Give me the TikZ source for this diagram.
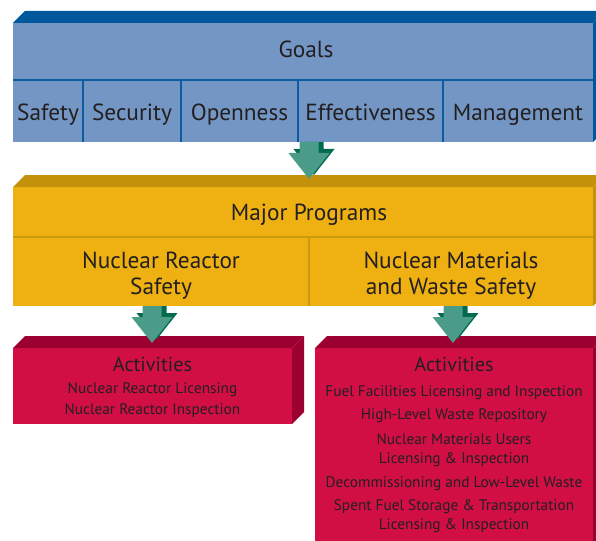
\documentclass[tikz,border=0pt]{standalone}
\usepackage{fontspec}
\setmainfont{PT Sans}
\usetikzlibrary{calc}
\definecolor{bluefront}{HTML}{7396C4}
\definecolor{bluetop}{HTML}{00579B}
\definecolor{blueline}{HTML}{0B5C9F}
\definecolor{goldfront}{HTML}{EEB111}
\definecolor{goldtop}{HTML}{C4920A}
\definecolor{goldline}{HTML}{C99A10}
\definecolor{redfront}{HTML}{D10F45}
\definecolor{redtop}{HTML}{9B0030}
\definecolor{arrowlight}{HTML}{4A9B88}
\definecolor{arrowdark}{HTML}{006B4F}
\definecolor{txt}{HTML}{231F20}
\newcommand{\fatarrow}[2]{%
  \fill[arrowdark] ($(#1)+(-4.5,0)$) -- ($(#1)+(14.5,0)$) -- ($(#2)+(14.5,-30)$) -- ($(#2)+(25.5,-30)$) -- ($(#2)+(5,-4)$) -- ($(#2)+(-15.5,-30)$) -- ($(#2)+(-4.5,-30)$) -- cycle;
  \fill[arrowlight] ($(#1)+(-9.5,0)$) -- ($(#1)+(9.5,0)$) -- ($(#2)+(9.5,-26)$) -- ($(#2)+(20.5,-26)$) -- (#2) -- ($(#2)+(-20.5,-26)$) -- ($(#2)+(-9.5,-26)$) -- cycle;}
\newcommand{\blockfaces}[3]{%
  \fill[#2] (#1.north west) -- ++(#3,-#3) -- ($(#1.north east)+(#3,-#3)$) -- (#1.north east) -- cycle;
  \fill[#2] (#1.north east) -- ++(#3,-#3) -- ($(#1.south east)+(#3,-#3)$) -- (#1.south east) -- cycle;}
\tikzset{
  face/.style={draw=none, inner sep=0pt, outer sep=0pt, anchor=north west},
  lbl/.style={text=txt, inner sep=0pt, align=center},
  one/.style={text height=0.7em, text depth=0.2em},
  big/.style={lbl, font=\fontsize{23.3}{26}\selectfont},
  mid/.style={lbl, one, font=\fontsize{20.2}{26}\selectfont},
  small/.style={lbl, font=\fontsize{15.3}{19}\selectfont},
  bline/.style={draw=blueline, line width=1.6pt},
  gline/.style={draw=goldline, line width=1.6pt},
}
\begin{document}
\begin{tikzpicture}[x=1pt,y=-1pt]
\useasboundingbox (0,0) rectangle (596,540);
\clip (0,0) rectangle (596,540);
% Goals block
\node[face, fill=bluefront, minimum width=580, minimum height=119] (goals) at (13,23) {};
\blockfaces{goals}{bluetop}{12}
\coordinate (gl1) at ($(goals.north west)+(0,57)$);
\coordinate (gl2) at ($(goals.north east)+(0,57)$);
\draw[bline] (gl1) -- (gl2);
\foreach \xx in {83,181,298,443} {\draw[bline] (\xx,80) -- (\xx,142);}
\node[big, one] (tgoals) at (306,55) {Goals};
\node[big, one] (tsafety) at (48,118) {Safety};
\node[big, one] (tsecurity) at (132,118) {Security};
\node[big, one] (topen) at (239.5,118) {Openness};
\node[big, one] (teff) at (370.5,118) {Effectiveness};
\node[big, one] (tman) at (518,118) {Management};
% Programs block
\node[face, fill=goldfront, minimum width=580, minimum height=119] (prog) at (13,187) {};
\blockfaces{prog}{goldtop}{12}
\draw[gline] ($(prog.north west)+(0,50)$) -- ($(prog.north east)+(0,50)$);
\draw[gline] (309,237) -- (309,306);
\node[big, one] (tmajor) at (309,218) {Major Programs};
\node[big] (treactor) at (161,276) {Nuclear Reactor\\Safety};
\node[big] (tmat) at (451,276) {Nuclear Materials\\and Waste Safety};
% Activities blocks
\node[face, fill=redfront, minimum width=279, minimum height=76] (actl) at (13,348) {};
\blockfaces{actl}{redtop}{12}
\node[face, fill=redfront, minimum width=278, minimum height=200] (actr) at (315,348) {};
\blockfaces{actr}{redtop}{12}
\node[mid] (tal) at (152.5,369) {Activities};
\node[small] (al1) at (152.5,390) {Nuclear Reactor Licensing};
\node[small] (al2) at (152.5,411) {Nuclear Reactor Inspection};
\node[mid] (tar) at (454,369) {Activities};
\node[small] (ar1) at (454,392.5) {Fuel Facilities Licensing and Inspection};
\node[small] (ar2) at (454,415.5) {High-Level Waste Repository};
\node[small] (ar3) at (454,450) {Nuclear Materials Users\\Licensing \& Inspection};
\node[small] (ar4) at (454,483.5) {Decommissioning and Low-Level Waste};
\node[small] (ar5) at (454,516) {Spent Fuel Storage \& Transportation\\Licensing \& Inspection};
% Arrows
\coordinate (a1top) at (309,142);
\coordinate (a1tip) at (309,179);
\coordinate (a2top) at (152,306);
\coordinate (a2tip) at (152,343);
\coordinate (a3top) at (453,306);
\coordinate (a3tip) at (453,343);
\fatarrow{a1top}{a1tip}
\fatarrow{a2top}{a2tip}
\fatarrow{a3top}{a3tip}
\end{tikzpicture}
\end{document}
